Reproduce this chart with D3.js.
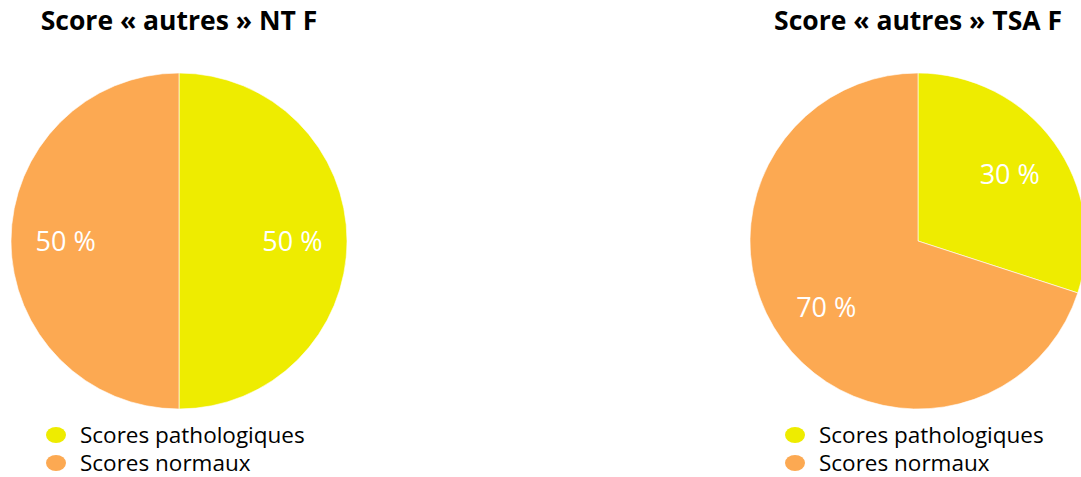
<!DOCTYPE html>
<html>
<head>
<meta charset="utf-8">
<script src="https://d3js.org/d3.v7.min.js"></script>
<style>
  body { margin: 0; background: #fff; }
  svg { font-family: "Open Sans", sans-serif; }
</style>
</head>
<body>
<svg id="chart" width="1081" height="477"></svg>
<script>
// data
var titles = ["Score « autres » NT F", "Score « autres » TSA F"];
var categories = ["Scores pathologiques", "Scores normaux"];
var valuesNT = [50, 50];
var valuesTSA = [30, 70];
var colors = ["#eeec00", "#fca952"];

var svg = d3.select("#chart");
var radius = 168;

var xPos = d3.scalePoint().domain(titles).range([179, 918]);
var color = d3.scaleOrdinal().domain(categories).range(colors);

var pie = d3.pie().sort(null).value(function(d) { return d.value; });
var arc = d3.arc().innerRadius(0).outerRadius(radius);
var labelArc = d3.arc().innerRadius(radius * 0.675).outerRadius(radius * 0.675);

function drawPie(title, values) {
  var data = categories.map(function(c, i) { return {cat: c, value: values[i]}; });
  var g = svg.append("g").attr("transform", "translate(" + xPos(title) + ",241)");

  g.append("text")
      .attr("x", 0)
      .attr("y", -211)
      .attr("text-anchor", "middle")
      .attr("font-weight", "bold")
      .attr("font-size", "26.5px")
      .attr("fill", "#000")
      .text(title);

  var slices = g.selectAll(".slice")
    .data(pie(data))
    .enter().append("g")
      .attr("class", "slice");

  slices.append("path")
      .attr("d", arc)
      .attr("fill", function(d) { return color(d.data.cat); })
      .attr("stroke", "#fff")
      .attr("stroke-width", 0.6);

  slices.append("text")
      .attr("transform", function(d) { return "translate(" + labelArc.centroid(d) + ")"; })
      .attr("text-anchor", "middle")
      .attr("dy", "0.36em")
      .attr("font-size", "27px")
      .attr("fill", "#fff")
      .text(function(d) { return d.data.value + " %"; });

  var legend = g.selectAll(".legend")
    .data(categories)
    .enter().append("g")
      .attr("class", "legend")
      .attr("transform", function(d, i) { return "translate(-123," + (194 + i * 28) + ")"; });

  legend.append("ellipse")
      .attr("rx", 10)
      .attr("ry", 8)
      .attr("fill", function(d) { return color(d); });

  legend.append("text")
      .attr("x", 24)
      .attr("y", 8)
      .attr("font-size", "22.5px")
      .attr("fill", "#000")
      .text(function(d) { return d; });
}

drawPie(titles[0], valuesNT);
drawPie(titles[1], valuesTSA);
</script>
</body>
</html>
